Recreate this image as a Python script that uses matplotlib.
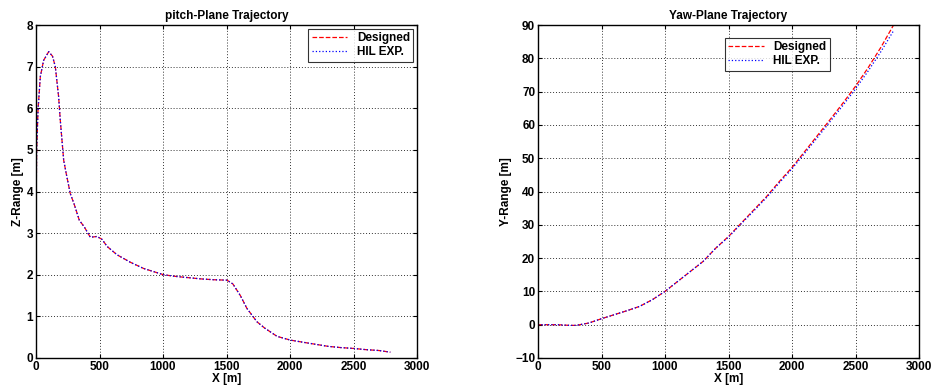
import matplotlib
matplotlib.use("Agg")
import matplotlib.pyplot as plt

plt.rcParams['font.family'] = ['Liberation Sans', 'DejaVu Sans']
plt.rcParams['font.weight'] = 'bold'

# Pitch-plane trajectory
pitch_x = [0, 2, 5, 16, 34, 60, 100, 130, 152, 178, 191, 218, 240, 270, 300, 341, 380,
           428, 480, 520, 560, 638, 743, 848, 1005, 1100, 1200, 1300, 1400, 1504, 1550,
           1609, 1661, 1740, 1800, 1898, 2003, 2100, 2200, 2300, 2400, 2500, 2600, 2700, 2790]
pitch_z = [1.9, 4.0, 5.0, 5.96, 6.76, 7.15, 7.36, 7.25, 7.0, 6.28, 5.72, 4.75, 4.4, 3.95, 3.7, 3.31, 3.15,
           2.9, 2.92, 2.85, 2.68, 2.48, 2.3, 2.15, 2.0, 1.96, 1.93, 1.9, 1.88, 1.87, 1.78,
           1.5, 1.19, 0.87, 0.72, 0.52, 0.43, 0.38, 0.33, 0.28, 0.25, 0.23, 0.2, 0.18, 0.14]
pitch_z_hil = [1.9, 4.0, 5.0, 5.96, 6.76, 7.15, 7.36, 7.25, 7.0, 6.28, 5.72, 4.75, 4.4, 3.95, 3.7, 3.31, 3.15,
               2.9, 2.92, 2.85, 2.68, 2.48, 2.3, 2.15, 2.0, 1.96, 1.93, 1.9, 1.88, 1.87, 1.78,
               1.5, 1.19, 0.87, 0.72, 0.52, 0.43, 0.38, 0.33, 0.28, 0.25, 0.23, 0.2, 0.18, 0.14]

# Yaw-plane trajectory
yaw_x = [0, 150, 250, 300, 400, 500, 600, 700, 800, 900, 1000, 1100, 1200, 1300, 1400, 1500,
         1600, 1700, 1800, 1900, 2000, 2100, 2200, 2300, 2400, 2500, 2600, 2700, 2800]
yaw_y = [0, 0, -0.2, -0.2, 0.5, 1.8, 3.0, 4.2, 5.5, 7.5, 10, 13, 16, 19, 23, 26.5,
         30.5, 34.5, 38.5, 43, 47.2, 52, 56.8, 61.6, 66.5, 71.6, 77.2, 83.3, 90]
yaw_y_hil = [0, 0, -0.2, -0.2, 0.5, 1.8, 3.0, 4.2, 5.5, 7.5, 10, 13, 16, 19, 23, 26.3,
             30.3, 34.2, 38.2, 42.6, 46.8, 51.5, 56.2, 61.0, 65.8, 70.8, 76.2, 82.0, 88.3]

fig = plt.figure(figsize=(9.36, 3.85), dpi=100)
ax1 = fig.add_axes([36/936, 27/385, 381/936, 333/385])
ax2 = fig.add_axes([538/936, 27/385, 381/936, 333/385])

fs = 8.5

def style(ax, xlabel, ylabel, title, ylim, yticks):
    ax.set_xlim(0, 3000)
    ax.set_ylim(*ylim)
    ax.set_xticks([0, 500, 1000, 1500, 2000, 2500, 3000])
    ax.set_yticks(yticks)
    ax.grid(True, color='#333333', linestyle=(0, (1, 2)), linewidth=0.7)
    ax.tick_params(direction='in', top=True, right=True, labelsize=fs, length=3, pad=2)
    for lab in ax.get_xticklabels() + ax.get_yticklabels():
        lab.set_fontweight('bold')
    ax.set_xlabel(xlabel, fontsize=fs, fontweight='bold', labelpad=0)
    ax.set_ylabel(ylabel, fontsize=fs, fontweight='bold', labelpad=2)
    ax.set_title(title, fontsize=fs, fontweight='bold', pad=4)
    for s in ax.spines.values():
        s.set_linewidth(1.0)

ax1.plot(pitch_x, pitch_z, color='red', linestyle='--', linewidth=0.9, label='Designed')
ax1.plot(pitch_x, pitch_z_hil, color='blue', linestyle=':', linewidth=0.9, label='HIL EXP.')
style(ax1, 'X [m]', 'Z-Range [m]', 'pitch-Plane Trajectory', (0, 8), range(0, 9))
leg1 = ax1.legend(loc='upper right', fontsize=fs, frameon=True, fancybox=False,
                  edgecolor='black', borderaxespad=0.3, handlelength=3, borderpad=0.3,
                  labelspacing=0.2)
leg1.get_frame().set_linewidth(0.8)
for t in leg1.get_texts():
    t.set_fontweight('bold')

ax2.plot(yaw_x, yaw_y, color='red', linestyle='--', linewidth=0.9, label='Designed')
ax2.plot(yaw_x, yaw_y_hil, color='blue', linestyle=':', linewidth=0.9, label='HIL EXP.')
style(ax2, 'X [m]', 'Y-Range [m]', 'Yaw-Plane Trajectory', (-10, 90), range(-10, 91, 10))
leg2 = ax2.legend(loc='upper left', bbox_to_anchor=(0.475, 0.98), fontsize=fs, frameon=True,
                  fancybox=False, edgecolor='black', handlelength=3, borderpad=0.3,
                  labelspacing=0.2)
leg2.get_frame().set_linewidth(0.8)
for t in leg2.get_texts():
    t.set_fontweight('bold')

fig.savefig('out.png', dpi=100)
